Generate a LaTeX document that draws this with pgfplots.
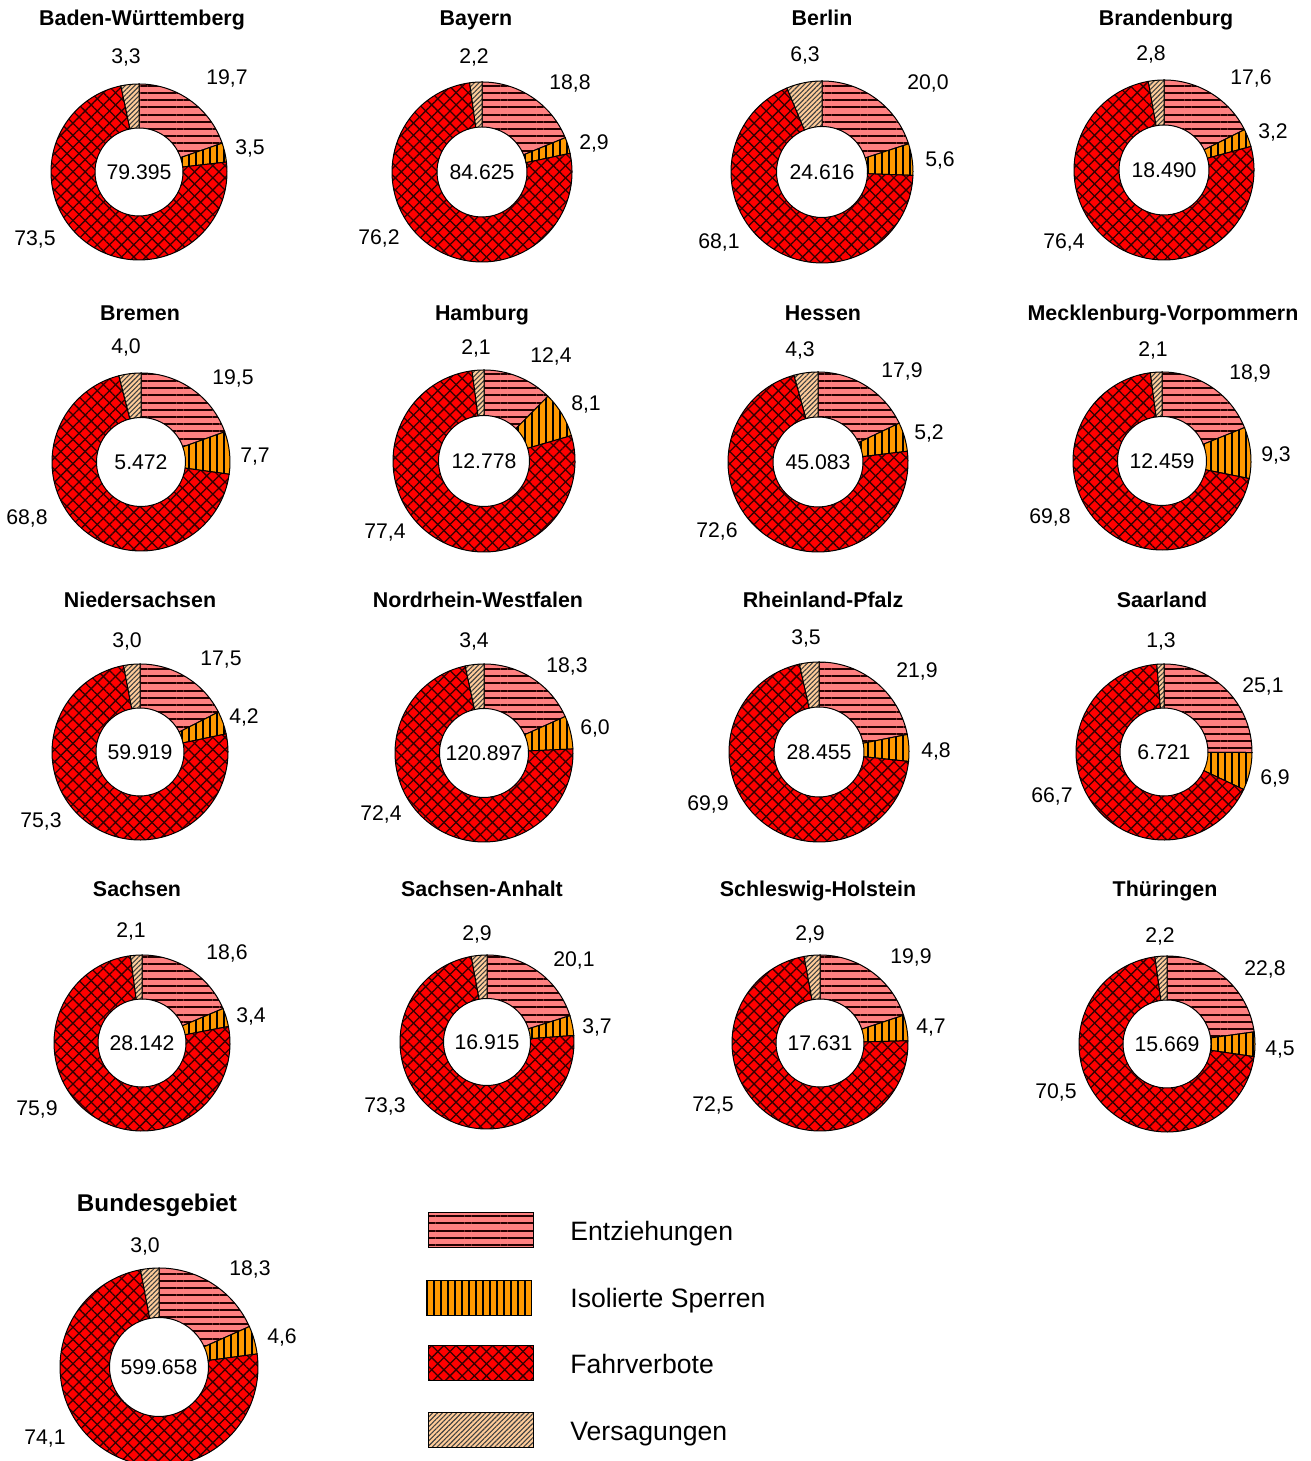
\documentclass[border=0pt]{standalone}
\usepackage{pgfplots}
\pgfplotsset{compat=1.18}
\usepackage{pgfplotstable}
\usepackage{fontspec}
\setmainfont{Liberation Sans}
\usetikzlibrary{patterns.meta}

\definecolor{cEntz}{HTML}{FF8080}
\definecolor{cIsol}{HTML}{FF9900}
\definecolor{cFahr}{HTML}{FF0000}
\definecolor{cVers}{HTML}{FFCC99}

\pgfkeys{/pgf/number format/assume math mode=true}

\tikzset{
  sE/.style={preaction={fill=cEntz},pattern={Lines[angle=0,distance=3.6pt,line width=0.95pt]},pattern color=black!85!red,draw=black,line width=0.5pt},
  sI/.style={preaction={fill=cIsol},pattern={Lines[angle=90,distance=3.5pt,line width=0.9pt]},pattern color=black,draw=black,line width=0.5pt},
  sF/.style={preaction={fill=cFahr},
    preaction={pattern={Lines[angle=45,distance=4.3pt,line width=0.65pt]},pattern color=black!80!red},
    pattern={Lines[angle=-45,distance=4.3pt,line width=0.65pt]},pattern color=black!80!red,draw=black,line width=0.5pt},
  sV/.style={preaction={fill=cVers},pattern={Lines[angle=45,distance=1.7pt,line width=0.55pt]},pattern color=black!75,draw=black,line width=0.5pt},
  lbl/.style={font=\fontsize{10.6}{12}\selectfont,anchor=base,inner sep=0pt},
  lgd/.style={font=\fontsize{13.3}{15}\selectfont,anchor=base west,inner sep=0pt},
}

% positions in pixels of the picture, y measured from the top
% name title-x title-y title-size centre-x centre-y radius, shares, total, label positions E I F V
\pgfplotstableread{
name tx ty fs cx cy rad E I F V tot lEx lEy lIx lIy lFx lFy lVx lVy
Baden-Württemberg 142 18 10.7 139 172 88 19.7 3.5 73.5 3.3 79395 227 77 250 147 35 238 126 56
Bayern 476 18 10.7 482 172 90 18.8 2.9 76.2 2.2 84625 570 82 594 142 379 237 474 56
Berlin 822 18 10.7 822 172 91 20.0 5.6 68.1 6.3 24616 928 82 940 159 719 241 805 54
Brandenburg 1166 18 10.7 1164 170 90 17.6 3.2 76.4 2.8 18490 1251 77 1273 131 1064 241 1151 53
Bremen 140 313 10.7 141 462 89 19.5 7.7 68.8 4.0 5472 233 377 255 455 27 517 126 346
Hamburg 482 313 10.7 484 461 91 12.4 8.1 77.4 2.1 12778 551 355 586 403 385 531 476 347
Hessen 823 313 10.7 818 462 90 17.9 5.2 72.6 4.3 45083 902 370 929 432 717 530 800 349
Mecklenburg-Vorpommern 1163 313 10.7 1162 461 89 18.9 9.3 69.8 2.1 12459 1250 372 1276 454 1050 516 1153 349
Niedersachsen 140 600 10.7 140 752 88 17.5 4.2 75.3 3.0 59919 221 658 244 716 41 820 127 640
Nordrhein-Westfalen 478 600 10.7 484 753 89 18.3 6.0 72.4 3.4 120897 567 665 595 727 381 813 474 640
Rheinland-Pfalz 823 600 10.7 819 752 90 21.9 4.8 69.9 3.5 28455 917 670 936 750 708 803 806 637
Saarland 1162 600 10.7 1164 752 88 25.1 6.9 66.7 1.3 6721 1263 685 1275 777 1052 795 1161 640
Sachsen 137 889 10.7 142 1043 88 18.6 3.4 75.9 2.1 28142 227 952 251 1015 37 1108 131 930
Sachsen-Anhalt 482 889 10.7 487 1042 87 20.1 3.7 73.3 2.9 16915 574 959 597 1026 385 1105 477 933
Schleswig-Holstein 818 889 10.7 820 1043 88 19.9 4.7 72.5 2.9 17631 911 956 931 1026 713 1104 810 933
Thüringen 1165 889 10.7 1167 1044 88 22.8 4.5 70.5 2.2 15669 1265 968 1280 1048 1056 1091 1160 935
Bundesgebiet 157 1203 12.1 159 1367 99 18.3 4.6 74.1 3.0 599658 250 1268 282 1336 45 1437 145 1245
}\data

\newcommand\getv[2]{\pgfplotstablegetelem{\row}{#1}\of\data\let#2\pgfplotsretval}
% one ring segment, clockwise from angle #2 to angle #3
\newcommand\slice[3]{%
  \pgfmathsetmacro\pxA{\cx+\rad*cos(#2)}\pgfmathsetmacro\pyA{\cy+\rad*sin(#2)}%
  \pgfmathsetmacro\pxB{\cx+\rin*cos(#3)}\pgfmathsetmacro\pyB{\cy+\rin*sin(#3)}%
  \pgfmathsetmacro\ro{0.5*\rad}\pgfmathsetmacro\rii{0.5*\rin}%
  \edef\cmd{\noexpand\path[#1] (axis cs:\pxA,\pyA) arc[start angle=#2,end angle=#3,radius=\ro pt]
    -- (axis cs:\pxB,\pyB) arc[start angle=#3,end angle=#2,radius=\rii pt] -- cycle;}\cmd}
% value label at picture position
\newcommand\vlabel[3]{%
  \pgfmathsetmacro\ly{1461-#2-7.6}%
  \edef\cmd{\noexpand\node[lbl] at (axis cs:#1,\ly) {\noexpand\pgfmathprintnumber[fixed,fixed zerofill,precision=1,use comma]{#3}};}\cmd}

\begin{document}
\begin{tikzpicture}
\begin{axis}[
  name=ax,
  width=655.5pt, height=730.5pt, scale only axis,
  xmin=0, xmax=1311, ymin=0, ymax=1461,
  hide axis,
]
\pgfplotstablegetrowsof{\data}
\pgfmathtruncatemacro\nrows{\pgfplotsretval-1}
\foreach \row in {0,...,\nrows}{
  \getv{name}\tName \getv{tx}\tx \getv{ty}\ty \getv{fs}\fs
  \getv{cx}\cx \getv{cy}\cyy \getv{rad}\rad
  \getv{E}\vE \getv{I}\vI \getv{F}\vF \getv{V}\vV \getv{tot}\vTot
  \getv{lEx}\lEx \getv{lEy}\lEy \getv{lIx}\lIx \getv{lIy}\lIy
  \getv{lFx}\lFx \getv{lFy}\lFy \getv{lVx}\lVx \getv{lVy}\lVy
  \pgfmathsetmacro\cy{1461-\cyy}
  \pgfmathsetmacro\rin{0.5*\rad}
  \pgfmathsetmacro\sm{\vE+\vI+\vF+\vV}
  \pgfmathsetmacro\aA{90-360*(\vE/\sm)}
  \pgfmathsetmacro\aB{90-360*((\vE+\vI)/\sm)}
  \pgfmathsetmacro\aC{90-360*((\vE+\vI+\vF)/\sm)}
  \slice{sE}{90}{\aA}
  \slice{sI}{\aA}{\aB}
  \slice{sF}{\aB}{\aC}
  \slice{sV}{\aC}{-270}
  % title
  \pgfmathsetmacro\tyb{1461-\ty-0.72*\fs}
  \edef\cmd{\noexpand\node[anchor=base,inner sep=0pt,font=\noexpand\bfseries\noexpand\fontsize{\fs}{14}\noexpand\selectfont] at (axis cs:\tx,\tyb) {\tName};}\cmd
  % total in the centre
  \pgfmathsetmacro\cyb{\cy-7.6}
  \edef\cmd{\noexpand\node[lbl] at (axis cs:\cx,\cyb) {\noexpand\pgfmathprintnumber[fixed,precision=0,1000 sep={.}]{\vTot}};}\cmd
  \vlabel{\lEx}{\lEy}{\vE}
  \vlabel{\lIx}{\lIy}{\vI}
  \vlabel{\lFx}{\lFy}{\vF}
  \vlabel{\lVx}{\lVy}{\vV}
}
% legend
\path[sE] (axis cs:428,{1461-1213}) rectangle (axis cs:533,{1461-1248});
\path[sI] (axis cs:426,{1461-1281}) rectangle (axis cs:531,{1461-1316});
\path[sF] (axis cs:428,{1461-1346}) rectangle (axis cs:533,{1461-1381});
\path[sV] (axis cs:428,{1461-1413}) rectangle (axis cs:533,{1461-1448});
\node[lgd] at (axis cs:570,{1461-1231-9.5}) {Entziehungen};
\node[lgd] at (axis cs:570,{1461-1298-9.5}) {Isolierte Sperren};
\node[lgd] at (axis cs:570,{1461-1364-9.5}) {Fahrverbote};
\node[lgd] at (axis cs:570,{1461-1431-9.5}) {Versagungen};
\end{axis}
\pgfresetboundingbox
\path[use as bounding box] (ax.south west) rectangle (ax.north east);
\end{tikzpicture}
\end{document}
